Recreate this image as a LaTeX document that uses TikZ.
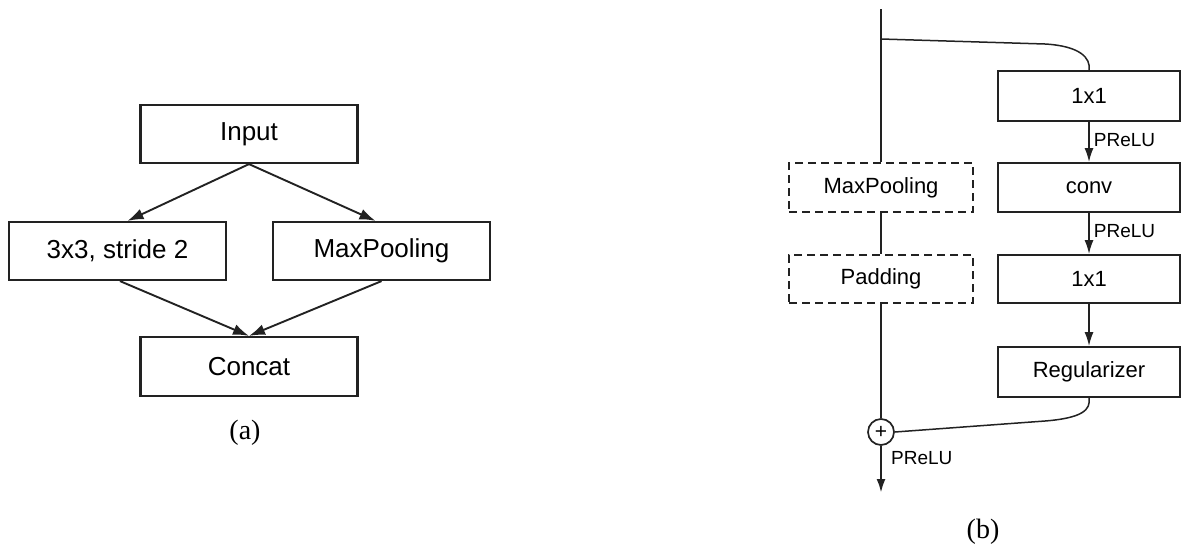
\documentclass[tikz,border=0pt]{standalone}
\usepackage{fontspec}
\setmainfont{Liberation Serif}
\newfontfamily\helv{Liberation Sans}
\usetikzlibrary{arrows.meta,calc}
\definecolor{ink}{HTML}{222222}
\begin{document}
\begin{tikzpicture}[x=1pt,y=-1pt,
  abox/.style={draw=ink,line width=2.2pt,minimum width=217pt,minimum height=58pt,inner sep=0pt,font=\helv\fontsize{26}{30}\selectfont},
  bbox/.style={draw=ink,line width=1.8pt,minimum width=182pt,minimum height=49pt,inner sep=0pt,font=\helv\fontsize{22}{26}\selectfont},
  dbox/.style={bbox,dash pattern=on 8pt off 5pt,minimum width=184pt},
  aarrow/.style={draw=ink,line width=1.9pt,-{Latex[length=16pt,width=11pt]}},
  barrow/.style={draw=ink,line width=1.7pt,-{Latex[length=14pt,width=9pt]}},
  mainline/.style={draw=ink,line width=2.5pt},
  thinline/.style={draw=ink,line width=1.5pt},
  lbl/.style={font=\helv\fontsize{19}{22}\selectfont,inner sep=0pt,anchor=west},
  captext/.style={font=\fontsize{28}{32}\selectfont,inner sep=0pt}
]
\useasboundingbox (0,0) rectangle (1182,547);
% (a)
\node[abox] (input) at (249,134) {Input};
\node[abox] (s3) at (117.5,251) {3x3, stride 2};
\node[abox] (mpa) at (381.5,251) {MaxPooling};
\node[abox,minimum height=59pt] (concat) at (249,366.5) {Concat};
\node[captext] (capa) at (245,433) {(a)};
\draw[aarrow] (input.south) -- ([xshift=10pt]s3.north);
\draw[aarrow] (input.south) -- ([xshift=-6pt]mpa.north);
\draw[aarrow] ([xshift=2.5pt]s3.south) -- (concat.north);
\draw[aarrow] ([xshift=0pt]mpa.south) -- (concat.north);
% (b)
\coordinate (top) at (881,9);
\coordinate (branch) at (881,39);
\node[bbox,minimum height=50pt] (one) at (1089,96) {1x1};
\node[bbox] (conv) at (1089,187.5) {conv};
\node[bbox,minimum height=48pt] (onetwo) at (1089,279) {1x1};
\node[bbox,minimum height=50pt] (reg) at (1089,372) {Regularizer};
\node[dbox] (mpb) at (881,187.5) {MaxPooling};
\node[dbox,minimum height=48pt] (pad) at (881,279) {Padding};
\node[draw=ink,line width=1.7pt,circle,minimum size=26pt,inner sep=0pt,font=\helv\fontsize{21}{22}\selectfont] (plus) at (881,432) {+};
\coordinate (bend) at (881,493);
\node[captext] (capb) at (983,532) {(b)};
\draw[mainline] (top) -- (mpb.north);
\draw[mainline] (mpb.south) -- (pad.north);
\draw[mainline] (pad.south) -- (plus.north);
\draw[mainline,-{Latex[length=14pt,width=9pt]}] (plus.south) -- (bend);
\draw[thinline] (branch) -- (1045,44) .. controls (1080,46) and (1091,58) .. (one.north);
\draw[thinline] (plus.east) -- (1045,421) .. controls (1082,418) and (1091,410) .. (reg.south);
\draw[barrow] (one.south) -- node[lbl,pos=0.45,xshift=4pt] (pr1) {PReLU} (conv.north);
\draw[barrow] (conv.south) -- node[lbl,pos=0.45,xshift=4pt] (pr2) {PReLU} (onetwo.north);
\draw[barrow] (onetwo.south) -- (reg.north);
\node[lbl] (pr3) at (891,458) {PReLU};
\end{tikzpicture}
\end{document}
